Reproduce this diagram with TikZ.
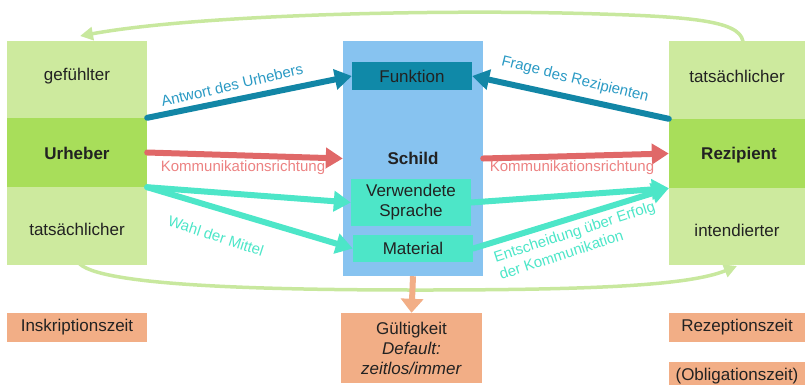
\documentclass[tikz,border=0pt]{standalone}
\usepackage{fontspec}
\setmainfont{Liberation Sans}
\usetikzlibrary{arrows.meta,calc}
\definecolor{lgreen}{HTML}{CDEA9E}
\definecolor{dgreen}{HTML}{A8DE5A}
\definecolor{sblue}{HTML}{87C3F0}
\definecolor{fteal}{HTML}{1089A8}
\definecolor{turq}{HTML}{4DE6C8}
\definecolor{orng}{HTML}{F2AE86}
\definecolor{ablue}{HTML}{1286A6}
\definecolor{lblue}{HTML}{2B9AC4}
\definecolor{ared}{HTML}{E06868}
\definecolor{lred}{HTML}{EC8282}
\definecolor{cgreen}{HTML}{C8E89E}
\definecolor{txt}{HTML}{222222}
\begin{document}
\begin{tikzpicture}[x=1pt,y=-1pt,
  box/.style={draw=none, inner sep=0pt, text=txt, font=\fontsize{17}{20}\selectfont, align=center},
  btxt/.style={inner sep=0pt, text=txt, font=\fontsize{17}{20}\selectfont},
  lbl/.style={inner sep=0pt, font=\fontsize{15}{18}\selectfont},
  thickarr/.style={line width=6pt, line cap=round, -{Triangle[length=17pt,width=20pt]}},
  curvearr/.style={line width=3.5pt, line cap=round, cgreen, -{Triangle[length=13pt,width=13pt]}}
]
\useasboundingbox (0,0) rectangle (805,384);

% curves (behind boxes)
\coordinate (ctop) at (743,45);
\coordinate (ctip) at (80,36);
\coordinate (cbot) at (77,260);
\coordinate (btip) at (737,266);
\draw[curvearr] (ctop) .. controls (745,22) and (700,17) .. (600,14) .. controls (450,9) and (200,14) .. (ctip);
\draw[curvearr] (cbot) .. controls (85,285) and (250,290) .. (420,290) .. controls (600,290) and (690,285) .. (btip);

% left column
\node[box, fill=lgreen, minimum width=140, minimum height=77] (gefL) at (77,79.5) {};
\node[box, fill=dgreen, minimum width=140, minimum height=69] (urh) at (77,152.5) {};
\node[box, fill=lgreen, minimum width=140, minimum height=78] (tatL) at (77,226) {};
\node[btxt] (gefLt) at (77,76) {gefühlter};
\node[btxt, font=\fontsize{17}{20}\selectfont\bfseries] (urht) at (77,153) {Urheber};
\node[btxt] (tatLt) at (77,229.5) {tatsächlicher};

% right column
\node[box, fill=lgreen, minimum width=136, minimum height=78] (tatR) at (737,80) {};
\node[box, fill=dgreen, minimum width=136, minimum height=69] (rez) at (737,153.5) {};
\node[box, fill=lgreen, minimum width=136, minimum height=77] (intd) at (737,226.5) {};
\node[btxt] (tatRt) at (737,76) {tatsächlicher};
\node[btxt, font=\fontsize{17}{20}\selectfont\bfseries] (rezt) at (739,155) {Rezipient};
\node[btxt] (intdt) at (737,230.5) {intendierter};

% Schild
\node[box, fill=sblue, minimum width=140, minimum height=235, font=\fontsize{17}{20}\selectfont\bfseries] (schild) at (413,158.5) {Schild};
\node[box, fill=fteal, minimum width=120, minimum height=28] (funk) at (412,76) {Funktion};
\node[box, fill=turq, minimum width=120, minimum height=47] (verw) at (411,202.5) {Verwendete\\Sprache};
\node[box, fill=turq, minimum width=120, minimum height=27] (mat) at (413,248.5) {Material};

% bottom boxes
\node[box, fill=orng, minimum width=140, minimum height=29] (insk) at (77,327.5) {Inskriptionszeit};
\node[box, fill=orng, minimum width=141, minimum height=70] (gult) at (411.5,348) {Gültigkeit\\\textit{Default:}\\\textit{zeitlos/immer}};
\node[box, fill=orng, minimum width=136, minimum height=29] (rezz) at (737,327.5) {Rezeptionszeit};
\node[box, fill=orng, minimum width=136, minimum height=28] (obl) at (737,376) {(Obligationszeit)};

% arrows
\draw[thickarr, ablue] (urh.north east) -- (funk.west);
\draw[thickarr, ablue] (rez.north west) -- (funk.east);
\draw[thickarr, ared] (urh.east) -- (schild.west);
\draw[thickarr, ared] (schild.east) -- (rez.west);
\draw[thickarr, turq] (urh.south east) -- (verw.west);
\draw[thickarr, turq] (urh.south east) -- (mat.west);
\draw[thickarr, turq] (verw.east) -- (rez.south west);
\draw[thickarr, turq] (mat.east) -- (rez.south west);
\draw[line width=6pt, orng, -{Triangle[length=14pt,width=22pt]}] (schild.south) -- (gult.north);

% labels
\node[lbl, text=lblue, rotate=13] (lantw) at (232,85) {Antwort des Urhebers};
\node[lbl, text=lblue, rotate=-14] (lfrage) at (575,80) {Frage des Rezipienten};
\node[lbl, text=lred] (lkomm1) at (243,168) {Kommunikationsrichtung};
\node[lbl, text=lred] (lkomm2) at (572,168) {Kommunikationsrichtung};
\node[lbl, text=turq, rotate=-18] (lwahl) at (216,236) {Wahl der Mittel};
\node[lbl, text=turq, rotate=18, align=left] (lent) at (577,240) {Entscheidung über Erfolg\\der Kommunikation};
\end{tikzpicture}
\end{document}
